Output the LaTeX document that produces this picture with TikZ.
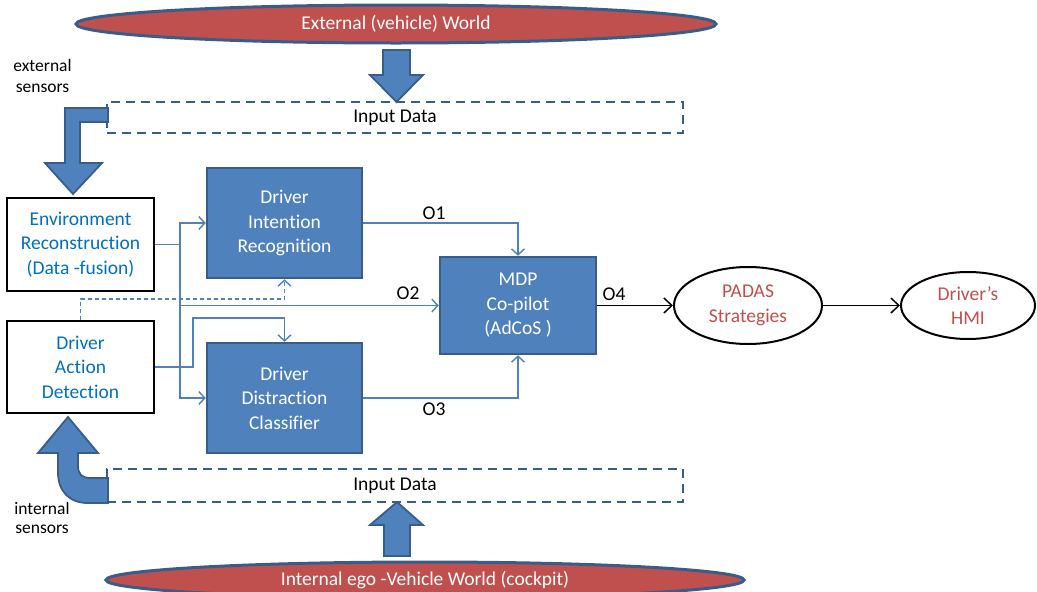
\documentclass[tikz,border=0pt]{standalone}
\usepackage{fontspec}
\setmainfont{Carlito}[RawFeature={-liga;-clig;-dlig;-calt}]
\usetikzlibrary{arrows.meta,shapes.geometric}
\definecolor{boxblue}{HTML}{4F81BD}
\definecolor{edgeblue}{HTML}{385D8A}
\definecolor{worldred}{HTML}{C0504D}
\definecolor{txtblue}{HTML}{0070C0}
\newcommand{\nl}{\kern0pt }
\begin{document}
\begin{tikzpicture}[x=1pt,y=-1pt,
  every node/.style={font=\fontsize{19.5}{24.5}\selectfont, align=center, inner sep=0pt},
  bluebox/.style={draw=edgeblue, line width=2.5pt, fill=boxblue, text=white, minimum width=#1},
  whitebox/.style={draw=black, line width=2pt, fill=white, text=txtblue, minimum width=147pt},
  world/.style={ellipse, draw=edgeblue, line width=3pt, fill=worldred, text=white},
  goal/.style={ellipse, draw=black, line width=2pt, fill=white, text=worldred},
  inbox/.style={draw=edgeblue, line width=2.5pt, dash pattern=on 9pt off 6pt, minimum width=576pt},
  conn/.style={draw=boxblue, line width=1.6pt, -{Straight Barb[length=6pt,width=13pt,line width=1.4pt]}},
  bconn/.style={draw=black, line width=1.6pt, -{Straight Barb[length=8pt,width=15pt,line width=1.5pt]}},
  blockarrow/.style={draw=edgeblue, line width=1.8pt, fill=boxblue, line join=miter},
  side/.style={font=\fontsize{17.5}{21.5}\selectfont}
]
\useasboundingbox (0,0) rectangle (1037,592);

% worlds
\node[world, minimum width=640pt, minimum height=38pt] (ext) at (396,24) {External (vehicle) World};
\node[world, minimum width=638pt, minimum height=36pt] (int) at (425,580) {Internal ego -Vehicle World (cockpit)};

% input data boxes
\node[inbox, minimum height=31pt] (intop) at (395,117.5) {Input Data};
\node[inbox, minimum height=33pt] (inbot) at (395,485.5) {Input Data};

% block arrows
\draw[blockarrow] (383,50) -- (410,50) -- (410,75) -- (423,75) -- (396.5,102) -- (370,75) -- (383,75) -- cycle;
\draw[blockarrow] (384,556) -- (410,556) -- (410,525) -- (423,525) -- (397,502) -- (370,525) -- (384,525) -- cycle;
\draw[blockarrow] (108,108) -- (65,108) -- (65,163) -- (45,163) -- (73,194) -- (102,163) -- (80,163) -- (80,122) -- (108,122) -- cycle;
\draw[blockarrow] (108,478) -- (90,478) .. controls (82,478) and (78,474) .. (78,466) -- (78,453) -- (98,453) -- (68,417) -- (38,453) -- (58,453) -- (58,472) .. controls (58,492) and (70,503) .. (88,503) -- (108,503) -- cycle;

\node[side] (extlab) at (42.5,76) {external\\sensors};
\node[side, font=\fontsize{17.5}{19}\selectfont] (intlab) at (42,517.5) {internal\\sensors};

% left boxes
\node[whitebox, minimum height=93pt] (env) at (80.5,244.5) {Environment\\Reconstruct\nl ion\\(Data -fusion)};
\node[whitebox, minimum height=92pt] (act) at (80.5,367) {Driver\\Act\nl ion\\Detect\nl ion};

% blue processing boxes
\node[bluebox=155pt, minimum height=110pt] (intent) at (284.5,223) {Driver\\Intent\nl ion\\Recognit\nl ion};
\node[bluebox=155pt, minimum height=110pt] (distr) at (284.5,398) {Driver\\Distract\nl ion\\Classif\nl ier};
\node[bluebox=156pt, minimum height=97pt] (mdp) at (518,305.5) {MDP\\Co-pilot\\(AdCoS )};

% goals
\node[goal, minimum width=148pt, minimum height=77pt] (padas) at (748,305.5) {PADAS\\Strategies};
\node[goal, minimum width=134pt, minimum height=67pt] (hmi) at (968,305.5) {Driver’s\\HMI};

% connectors
\coordinate (trunk) at (180,244.5);
\draw[conn] (env.east) -- (trunk) |- (intent.west);
\draw[conn] (env.east) -- (trunk) |- (distr.west);
\draw[conn] (trunk) |- (mdp.west);
\coordinate (actbend) at (193,367);
\coordinate (acttop) at (193,318);
\draw[conn] (act.east) -- (actbend) -- (acttop) -| (distr.north);
\coordinate (dashbend) at (80.5,299);
\draw[conn, dash pattern=on 4pt off 3pt] (act.north) -- (dashbend) -| (intent.south);
\draw[conn] (intent.east) -| (mdp.north);
\draw[conn] (distr.east) -| (mdp.south);
\draw[bconn] (mdp.east) -- (padas.west);
\draw[bconn] (padas.east) -- (hmi.west);

% labels
\node (o1) at (434,213) {O1};
\node (o2) at (408,293) {O2};
\node (o3) at (434,409) {O3};
\node (o4) at (614,294) {O4};
\end{tikzpicture}
\end{document}
